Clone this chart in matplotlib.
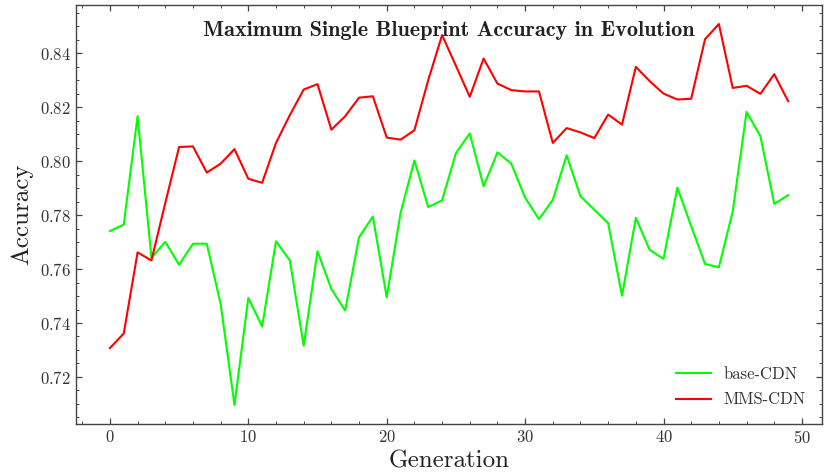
import numpy as np
import matplotlib
matplotlib.use("Agg")
import matplotlib.pyplot as plt
from matplotlib.ticker import MultipleLocator

# generations and best accuracy per generation
generations = list(range(50))

base_cdn = [0.7741, 0.7765, 0.8167, 0.7642, 0.7701, 0.7616, 0.7694, 0.7694, 0.7471, 0.7096,
            0.7493, 0.7387, 0.7703, 0.7632, 0.7316, 0.7666, 0.7526, 0.7446, 0.7718, 0.7795,
            0.7495, 0.7808, 0.8003, 0.7830, 0.7855, 0.8030, 0.8103, 0.7907, 0.8033, 0.7991,
            0.7865, 0.7785, 0.7857, 0.8022, 0.7870, 0.7820, 0.7770, 0.7501, 0.7790, 0.7671,
            0.7638, 0.7902, 0.7759, 0.7619, 0.7607, 0.7814, 0.8183, 0.8093, 0.7842, 0.7874]

mms_cdn = [0.7307, 0.7361, 0.7662, 0.7632, 0.7845, 0.8053, 0.8055, 0.7958, 0.7991, 0.8045,
           0.7935, 0.7920, 0.8068, 0.8171, 0.8266, 0.8286, 0.8117, 0.8167, 0.8236, 0.8241,
           0.8088, 0.8080, 0.8115, 0.8301, 0.8468, 0.8354, 0.8239, 0.8381, 0.8288, 0.8264,
           0.8259, 0.8259, 0.8068, 0.8123, 0.8107, 0.8086, 0.8173, 0.8136, 0.8350, 0.8297,
           0.8251, 0.8229, 0.8232, 0.8453, 0.8509, 0.8272, 0.8280, 0.8250, 0.8323, 0.8223]

series_names = ['base-CDN', 'MMS-CDN']
title = 'Maximum Single Blueprint Accuracy in Evolution'

plt.rcParams['font.family'] = ['cmr10', 'DejaVu Serif']
plt.rcParams['mathtext.fontset'] = 'cm'
plt.rcParams['axes.formatter.use_mathtext'] = True

edge = '#444444'

fig = plt.figure(figsize=(8.24, 4.74), dpi=100)
ax = fig.add_axes([76 / 824, 50 / 474, 746 / 824, 419 / 474])

ax.plot(generations, base_cdn, color='#00ff00', linewidth=1.5, label=series_names[0])
ax.plot(generations, mms_cdn, color='#ff0000', linewidth=1.5, label=series_names[1])

# ticks inside on all sides, science-style
ax.xaxis.set_major_locator(MultipleLocator(10))
ax.xaxis.set_minor_locator(MultipleLocator(2))
ax.yaxis.set_major_locator(MultipleLocator(0.02))
ax.yaxis.set_minor_locator(MultipleLocator(0.005))
ax.tick_params(which='both', direction='in', top=True, right=True, color=edge,
               labelcolor='#333333', labelsize=12)
ax.tick_params(which='major', length=4, width=0.9)
ax.tick_params(which='minor', length=2, width=0.7)
for s in ax.spines.values():
    s.set_color(edge)
    s.set_linewidth(1.0)

ax.set_xlabel('Generation', fontsize=18, color='#222222', labelpad=3)
ax.set_ylabel('Accuracy', fontsize=18, color='#222222', labelpad=5)

ax.text(0.5, 0.94, title, transform=ax.transAxes, ha='center', va='center',
        fontsize=16, family=['cmb10', 'DejaVu Serif'], color='#222222')

ax.legend(loc='lower right', frameon=False, fontsize=12, handlelength=2.1,
          handletextpad=0.7, labelspacing=0.6, borderaxespad=0.6,
          labelcolor='#333333')

fig.savefig('out.png', dpi=100)
